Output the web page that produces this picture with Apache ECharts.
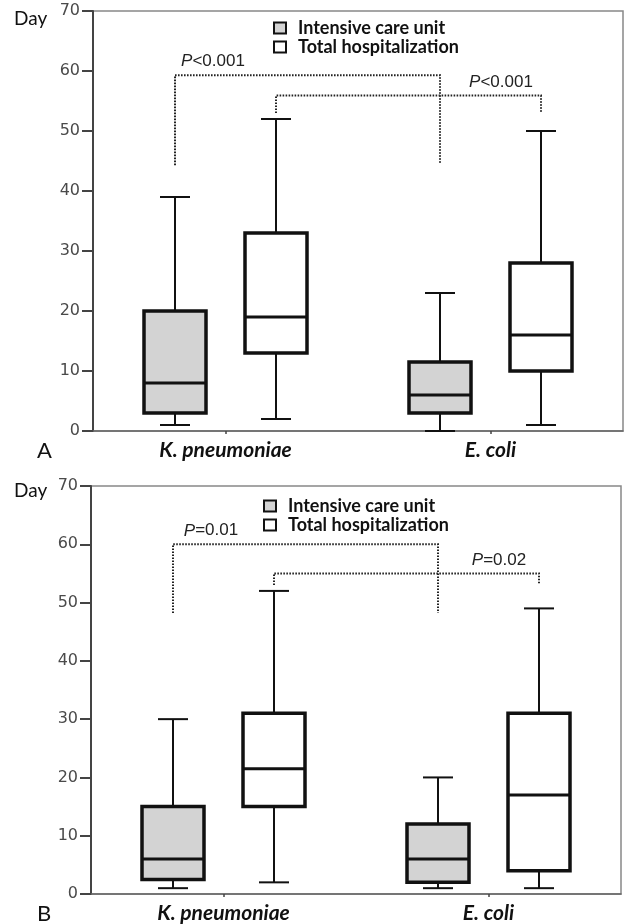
<!DOCTYPE html>
<html><head><meta charset="utf-8">
<script src="https://cdn.jsdelivr.net/npm/echarts@6/dist/echarts.min.js"></script>
<style>html,body{margin:0;padding:0;background:#fff}#c{width:627px;height:924px}</style>
</head><body><div id="c"></div>
<script>
// ---------- data ----------
const categories = ['K. pneumoniae', 'E. coli'];
const seriesNames = ['Intensive care unit', 'Total hospitalization'];
// each: [low whisker, Q1, median, Q3, high whisker]
const icuA   = [[1, 3, 8, 20, 39], [0, 3, 6, 11.5, 23]];
const totalA = [[2, 13, 19, 33, 52], [1, 10, 16, 28, 50]];
const icuB   = [[1, 2.5, 6, 15, 30], [1, 2, 6, 12, 20]];
const totalB = [[2, 15, 21.5, 31, 52], [1, 4, 17, 31, 49]];
// significance brackets: [group (0 = ICU, 1 = total), start y, bracket level, end y]
const bracketA = [[0, 44.3, 59.3, 44.7], [1, 53, 55.9, 53.2]];
const bracketB = [[0, 48.2, 60, 48.2], [1, 53, 55, 53.3]];
const pLabelsA = ['<0.001', '<0.001'];
const pLabelsB = ['=0.01', '=0.02'];
const yMin = 0, yMax = 70, yStep = 10;

// ---------- style ----------
const INK = '#111';
const FILLS = ['#d3d3d3', '#ffffff'];
const OFF = [-50.5, 50.5];
const BOX_W = 62, CAP_W = 30;

function boxItem(group) {
  return function (params, api) {
    const cat = api.value(0);
    const cx = api.coord([cat, 0])[0] + OFF[group];
    const py = i => api.coord([cat, api.value(i)])[1];
    const yLow = py(1), yQ1 = py(2), yMed = py(3), yQ3 = py(4), yHigh = py(5);
    const hw = BOX_W / 2, cw = CAP_W / 2;
    const ls = {stroke: INK, lineWidth: 2};
    return {type: 'group', children: [
      {type: 'line', shape: {x1: cx, y1: yHigh, x2: cx, y2: yQ3}, style: ls},
      {type: 'line', shape: {x1: cx, y1: yQ1, x2: cx, y2: yLow}, style: ls},
      {type: 'line', shape: {x1: cx - cw, y1: yHigh, x2: cx + cw, y2: yHigh}, style: ls},
      {type: 'line', shape: {x1: cx - cw, y1: yLow, x2: cx + cw, y2: yLow}, style: ls},
      {type: 'rect', shape: {x: cx - hw, y: yQ3, width: BOX_W, height: yQ1 - yQ3},
        style: {fill: FILLS[group], stroke: INK, lineWidth: 3.5}},
      {type: 'line', shape: {x1: cx - hw, y1: yMed, x2: cx + hw, y2: yMed}, style: {stroke: INK, lineWidth: 3}}
    ]};
  };
}

function bracketItem(labels) {
  return function (params, api) {
    const g = api.value(0);
    const x0 = api.coord([0, 0])[0] + OFF[g];
    const x1 = api.coord([1, 0])[0] + OFF[g];
    const ys = api.coord([0, api.value(1)])[1];
    const yl = api.coord([0, api.value(2)])[1];
    const ye = api.coord([0, api.value(3)])[1];
    const tx = g === 0 ? x0 + 38 : x1 - 40;
    const base = {fontSize: 17, fontFamily: 'Liberation Sans', fill: '#222'};
    return {type: 'group', children: [
      {type: 'polyline', shape: {points: [[x0, ys], [x0, yl], [x1, yl], [x1, ye]]},
        style: {fill: 'none', stroke: '#222', lineWidth: 2, lineDash: [1.6, 1.4]}},
      {type: 'text', style: {x: tx, y: yl - 5, text: '{i|P}{n|' + labels[params.dataIndex] + '}',
        align: 'center', verticalAlign: 'bottom',
        rich: {i: Object.assign({fontStyle: 'italic'}, base), n: base}}}
    ]};
  };
}

const toItems = arr => arr.map((v, i) => [i].concat(v));

function legendAt(left, top) {
  return {
    orient: 'vertical', left: left, top: top, padding: 0, itemWidth: 12, itemHeight: 11, itemGap: 1,
    selectedMode: false, icon: 'rect',
    textStyle: {fontFamily: 'Lato', fontWeight: 'bold', fontSize: 18, lineHeight: 16, color: INK, padding: [0, 0, 0, 7]},
    itemStyle: {borderColor: INK, borderWidth: 2},
    data: seriesNames.map((n, i) => ({name: n, itemStyle: {color: FILLS[i], borderColor: INK, borderWidth: 2}}))
  };
}

function xAxisFor(gi) {
  return {
    type: 'category', gridIndex: gi, data: categories, boundaryGap: true,
    axisLine: {lineStyle: {color: '#666', width: 1.5}},
    axisTick: {show: true, alignWithLabel: true, length: 3, lineStyle: {color: '#444', width: 1.5}},
    axisLabel: {fontFamily: 'Lato', fontWeight: 'bold', fontStyle: 'italic', fontSize: 21, color: INK, margin: 9},
    splitLine: {show: false}
  };
}
function yAxisFor(gi) {
  return {
    type: 'value', gridIndex: gi, min: yMin, max: yMax, interval: yStep,
    axisLine: {show: true, lineStyle: {color: '#444', width: 2}},
    axisTick: {show: true, length: 11, lineStyle: {color: '#444', width: 2}},
    axisLabel: {fontFamily: 'DejaVu Sans', fontSize: 16, color: '#4a4a4a', margin: 13},
    splitLine: {show: false}
  };
}

const chart = echarts.init(document.getElementById('c'), null, {renderer: 'canvas'});
chart.setOption({
  animation: false,
  backgroundColor: '#fff',
  grid: [
    {left: 93, top: 11, width: 530, height: 420, show: true, borderColor: '#888', borderWidth: 1.5, outerBoundsMode: 'none'},
    {left: 91, top: 486, width: 530, height: 408, show: true, borderColor: '#888', borderWidth: 1.5, outerBoundsMode: 'none'}
  ],
  legend: [legendAt(273, 19), legendAt(263, 497)],
  xAxis: [xAxisFor(0), xAxisFor(1)],
  yAxis: [yAxisFor(0), yAxisFor(1)],
  graphic: [
    {type: 'text', left: 14, top: 9, style: {text: 'Day', font: '19px Lato', fill: INK}},
    {type: 'text', left: 14, top: 481, style: {text: 'Day', font: '19px Lato', fill: INK}},
    {type: 'text', left: 37, top: 440, style: {text: 'A', font: '22px Lato', fill: INK}},
    {type: 'text', left: 37, top: 903, style: {text: 'B', font: '22px Lato', fill: INK}}
  ],
  series: [
    {type: 'custom', name: seriesNames[0], xAxisIndex: 0, yAxisIndex: 0, itemStyle: {color: FILLS[0]},
      encode: {x: 0, y: [1, 2, 3, 4, 5]}, renderItem: boxItem(0), data: toItems(icuA)},
    {type: 'custom', name: seriesNames[1], xAxisIndex: 0, yAxisIndex: 0, itemStyle: {color: FILLS[1]},
      encode: {x: 0, y: [1, 2, 3, 4, 5]}, renderItem: boxItem(1), data: toItems(totalA)},
    {type: 'custom', name: seriesNames[0], xAxisIndex: 1, yAxisIndex: 1, itemStyle: {color: FILLS[0]},
      encode: {x: 0, y: [1, 2, 3, 4, 5]}, renderItem: boxItem(0), data: toItems(icuB)},
    {type: 'custom', name: seriesNames[1], xAxisIndex: 1, yAxisIndex: 1, itemStyle: {color: FILLS[1]},
      encode: {x: 0, y: [1, 2, 3, 4, 5]}, renderItem: boxItem(1), data: toItems(totalB)},
    {type: 'custom', name: 'bracketsA', xAxisIndex: 0, yAxisIndex: 0, silent: true,
      encode: {x: 0, y: [1, 2, 3]}, renderItem: bracketItem(pLabelsA), data: bracketA},
    {type: 'custom', name: 'bracketsB', xAxisIndex: 1, yAxisIndex: 1, silent: true,
      encode: {x: 0, y: [1, 2, 3]}, renderItem: bracketItem(pLabelsB), data: bracketB}
  ]
});
</script></body></html>
